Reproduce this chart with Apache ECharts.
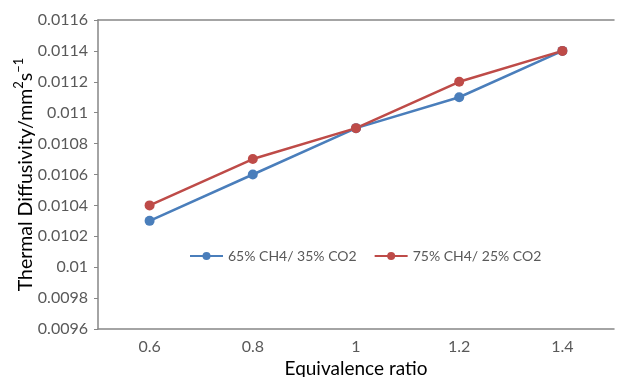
<!DOCTYPE html>
<html>
<head>
<meta charset="utf-8">
<script src="https://cdn.jsdelivr.net/npm/echarts@6/dist/echarts.min.js"></script>
<style>
  html, body { margin: 0; padding: 0; background: #fff; }
  #chart { width: 617px; height: 377px; }
</style>
</head>
<body>
<div id="chart"></div>
<script>
// Equivalence ratio categories and thermal diffusivity (mm^2/s) per fuel blend
const ratios = ['0.6', '0.8', '1', '1.2', '1.4'];
const blend65 = [0.0103, 0.0106, 0.0109, 0.0111, 0.0114];
const blend75 = [0.0104, 0.0107, 0.0109, 0.0112, 0.0114];
const seriesNames = ['65% CH4/ 35% CO2', '75% CH4/ 25% CO2'];

const FONT = 'Lato';
const TEXT = '#595959';
const AXIS = '#868686';

const chart = echarts.init(document.getElementById('chart'), null, { renderer: 'canvas', width: 617, height: 377 });

function lineSeries(name, data, color) {
  return {
    name: name,
    type: 'line',
    data: data,
    symbol: 'circle',
    symbolSize: 10,
    lineStyle: { color: color, width: 2.5 },
    itemStyle: { color: color },
    emphasis: { disabled: true },
    animation: false
  };
}

chart.setOption({
  animation: false,
  grid: {
    left: 98, width: 516, top: 20, height: 309,
    containLabel: false,
    outerBoundsMode: 'none'
  },
  legend: {
    left: 184,
    top: 244,
    itemWidth: 33,
    itemHeight: 10,
    itemGap: 17,
    textStyle: { fontFamily: FONT, fontSize: 14, color: TEXT },
    data: seriesNames
  },
  xAxis: [
    {
      type: 'category',
      data: ratios,
      boundaryGap: true,
      name: 'Equivalence ratio',
      nameLocation: 'middle',
      nameGap: 30,
      nameMoveOverlap: false,
      nameTextStyle: { fontFamily: FONT, fontSize: 19, color: '#000' },
      axisLine: { lineStyle: { color: AXIS, width: 1.5 } },
      axisTick: { alignWithLabel: true, length: 4, lineStyle: { color: AXIS } },
      axisLabel: { fontFamily: FONT, fontSize: 16, color: TEXT, margin: 10 },
      splitLine: { show: false }
    },
    {
      // plain frame line along the top of the plot
      type: 'category',
      data: ratios,
      position: 'top',
      axisLine: { lineStyle: { color: AXIS, width: 1.5 } },
      axisTick: { show: false },
      axisLabel: { show: false },
      splitLine: { show: false }
    }
  ],
  yAxis: {
    type: 'value',
    min: 0.0096,
    max: 0.0116,
    interval: 0.0002,
    name: '{a|Thermal Diffusivity/mm}{s|2}{a|s}{s|−1}',
    nameLocation: 'middle',
    nameGap: 62,
    nameMoveOverlap: false,
    nameTextStyle: {
      rich: {
        a: { fontFamily: FONT, fontSize: 19.5, color: '#000', lineHeight: 24, verticalAlign: 'bottom' },
        s: { fontFamily: FONT, fontSize: 13, color: '#000', lineHeight: 24, verticalAlign: 'top' }
      }
    },
    axisLine: { show: true, lineStyle: { color: AXIS, width: 1.5 } },
    axisTick: { show: true, length: 4, lineStyle: { color: AXIS } },
    axisLabel: {
      fontFamily: FONT, fontSize: 16, color: TEXT, margin: 10,
      formatter: v => String(parseFloat(v.toFixed(4)))
    },
    splitLine: { show: false }
  },
  series: [
    lineSeries(seriesNames[0], blend65, '#4A7EBB'),
    lineSeries(seriesNames[1], blend75, '#BE4B48')
  ]
});
</script>
</body>
</html>
